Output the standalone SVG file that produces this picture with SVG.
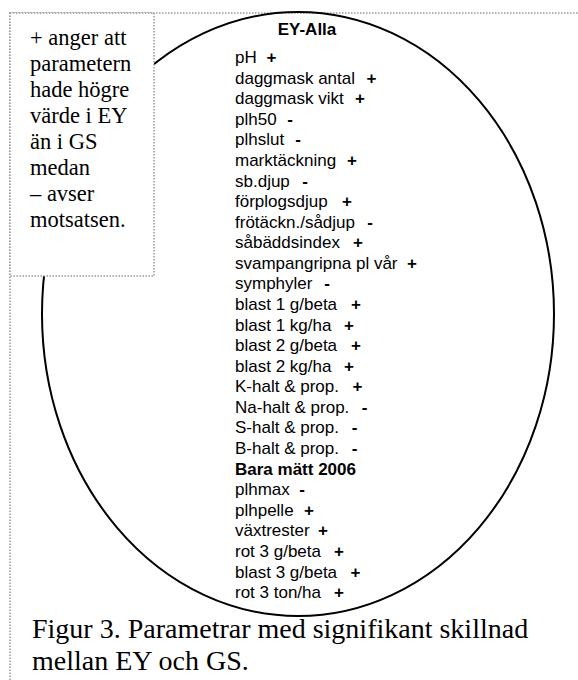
<svg xmlns="http://www.w3.org/2000/svg" width="578" height="680" viewBox="0 0 578 680">
<style>
.frame{fill:none;stroke:#999;stroke-width:1.5;stroke-dasharray:1.5 1.5}
.box{fill:#fff;stroke:#999;stroke-width:1.5;stroke-dasharray:1.5 1.5}
.oval{fill:none;stroke:#000;stroke-width:2}
.item{font-family:"Liberation Sans",Arial,sans-serif;font-size:17px;fill:#000}
.b{font-weight:bold}
.sign{font-family:"Liberation Sans",Arial,sans-serif;font-size:17px;font-weight:bold;text-anchor:middle;fill:#000}
.note{font-family:"Liberation Serif","Times New Roman",serif;font-size:22.5px;fill:#000}
.cap{font-family:"Liberation Serif","Times New Roman",serif;font-size:28px;fill:#000}
</style>
<rect id="bg" x="0" y="0" width="578" height="680" fill="#fff"/>
<g id="frame">
<path class="frame" d="M10,680 V13 H578"/>
</g>
<g id="ellipse-node">
<ellipse class="oval" cx="298" cy="314" rx="256" ry="302"/>
<text class="item b" x="307" y="35" text-anchor="middle">EY-Alla</text>
<g id="list">
<text class="item" x="235" y="63.0">pH</text><text class="sign" x="271.5" y="63.0">+</text>
<text class="item" x="235" y="83.6">daggmask antal</text><text class="sign" x="371.5" y="83.6">+</text>
<text class="item" x="235" y="104.2">daggmask vikt</text><text class="sign" x="360" y="104.2">+</text>
<text class="item" x="235" y="124.7">plh50</text><text class="sign" x="290" y="124.7">-</text>
<text class="item" x="235" y="145.3">plhslut</text><text class="sign" x="298" y="145.3">-</text>
<text class="item" x="235" y="165.9">marktäckning</text><text class="sign" x="352" y="165.9">+</text>
<text class="item" x="235" y="186.5">sb.djup</text><text class="sign" x="305" y="186.5">-</text>
<text class="item" x="235" y="207.1">förplogsdjup</text><text class="sign" x="347" y="207.1">+</text>
<text class="item" x="235" y="227.6">frötäckn./sådjup</text><text class="sign" x="370" y="227.6">-</text>
<text class="item" x="235" y="248.2">såbäddsindex</text><text class="sign" x="358" y="248.2">+</text>
<text class="item" x="235" y="268.8">svampangripna pl vår</text><text class="sign" x="412" y="268.8">+</text>
<text class="item" x="235" y="289.4">symphyler</text><text class="sign" x="327" y="289.4">-</text>
<text class="item" x="235" y="310.0">blast 1 g/beta</text><text class="sign" x="356" y="310.0">+</text>
<text class="item" x="235" y="330.5">blast 1 kg/ha</text><text class="sign" x="349" y="330.5">+</text>
<text class="item" x="235" y="351.1">blast 2 g/beta</text><text class="sign" x="356" y="351.1">+</text>
<text class="item" x="235" y="371.7">blast 2 kg/ha</text><text class="sign" x="349" y="371.7">+</text>
<text class="item" x="235" y="392.3">K-halt &amp; prop.</text><text class="sign" x="357.5" y="392.3">+</text>
<text class="item" x="235" y="412.9">Na-halt &amp; prop.</text><text class="sign" x="364.5" y="412.9">-</text>
<text class="item" x="235" y="433.4">S-halt &amp; prop.</text><text class="sign" x="354.5" y="433.4">-</text>
<text class="item" x="235" y="454.0">B-halt &amp; prop.</text><text class="sign" x="354.5" y="454.0">-</text>
<text class="item b" x="235" y="474.6">Bara mätt 2006</text>
<text class="item" x="235" y="495.2">plhmax</text><text class="sign" x="302" y="495.2">-</text>
<text class="item" x="235" y="515.8">plhpelle</text><text class="sign" x="309" y="515.8">+</text>
<text class="item" x="235" y="536.3">växtrester</text><text class="sign" x="323" y="536.3">+</text>
<text class="item" x="235" y="556.9">rot 3 g/beta</text><text class="sign" x="339" y="556.9">+</text>
<text class="item" x="235" y="577.5">blast 3 g/beta</text><text class="sign" x="355.5" y="577.5">+</text>
<text class="item" x="235" y="598.1">rot 3 ton/ha</text><text class="sign" x="339" y="598.1">+</text>
</g>
</g>
<g id="legend-node">
<rect class="box" x="10" y="13" width="144" height="263"/>
<text class="note" x="30" y="44.5">+ anger att</text>
<text class="note" x="30" y="70.5">parametern</text>
<text class="note" x="30" y="96.5">hade högre</text>
<text class="note" x="30" y="122.5">värde i EY</text>
<text class="note" x="30" y="148.5">än i GS</text>
<text class="note" x="30" y="174.5">medan</text>
<text class="note" x="30" y="200.5">– avser</text>
<text class="note" x="30" y="226.5">motsatsen.</text>
</g>
<g id="connectors"></g>
<g id="caption">
<text class="cap" x="32" y="638">Figur 3. Parametrar med signifikant skillnad</text>
<text class="cap" x="32" y="670">mellan EY och GS.</text>
</g>
</svg>
